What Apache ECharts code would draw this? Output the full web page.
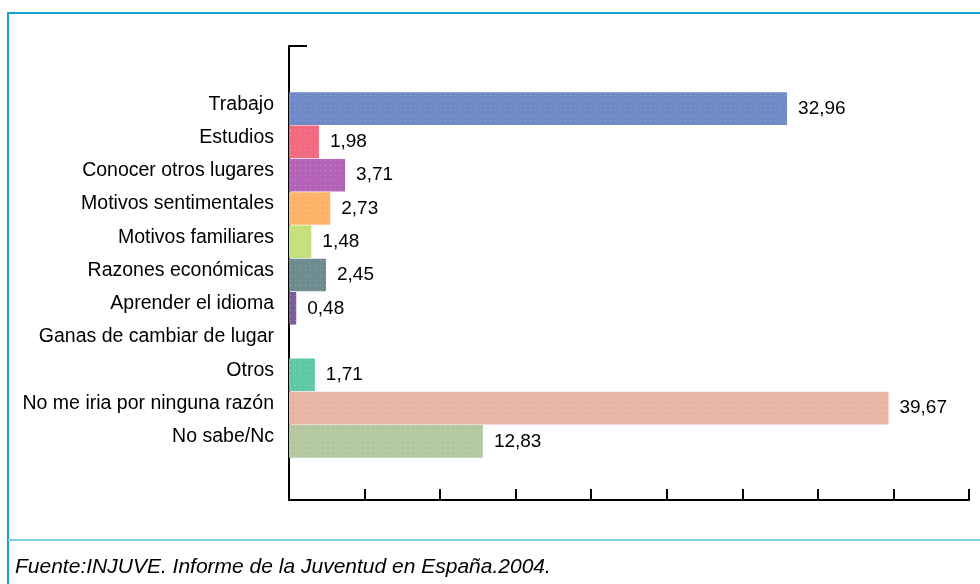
<!DOCTYPE html>
<html>
<head>
<meta charset="utf-8">
<script src="https://cdn.jsdelivr.net/npm/echarts@6/dist/echarts.min.js"></script>
<style>
    html, body { margin: 0; padding: 0; background: #fff; }
    #main { width: 980px; height: 584px; }
</style>
</head>
<body>
<div id="main"></div>
<script>
    // datos
    const categorias = [
        'Trabajo',
        'Estudios',
        'Conocer otros lugares',
        'Motivos sentimentales',
        'Motivos familiares',
        'Razones económicas',
        'Aprender el idioma',
        'Ganas de cambiar de lugar',
        'Otros',
        'No me iria por ninguna razón',
        'No sabe/Nc'
    ];
    const valores = [32.96, 1.98, 3.71, 2.73, 1.48, 2.45, 0.48, 0, 1.71, 39.67, 12.83];
    const colores = ['#6f8ac6', '#f26a80', '#b464b8', '#fdb468', '#c4e07c', '#6e8b90', '#7a5c98', '#888888', '#5ec9a2', '#e8b4a4', '#b4c8a0'];
    const fuente = 'Fuente:INJUVE. Informe de la Juventud en España.2004.';

    var chartDom = document.getElementById('main');
    var myChart = echarts.init(chartDom);
    var font = "'Liberation Sans', Arial, sans-serif";

    let barras = valores.map((v, i) => {
        return {
            value: v,
            itemStyle: {
                color: colores[i],
                // punteado suave como en el original
                decal: {
                    symbol: 'rect',
                    symbolSize: 1,
                    dashArrayX: [1, 4],
                    dashArrayY: [1, 4],
                    color: 'rgba(255,255,255,0.25)'
                }
            }
        };
    });

    var option = {
        animation: false,
        title: {
            text: fuente,
            left: 10,
            top: 552,
            textStyle: {
                fontFamily: font,
                fontStyle: 'italic',
                fontWeight: 'normal',
                fontSize: 21,
                color: '#000'
            }
        },
        grid: [
            { left: 289, right: 11, top: 92, bottom: 126 },
            { left: 289, right: 11, top: 46, bottom: 84 }
        ],
        xAxis: [
            {
                gridIndex: 0,
                type: 'value',
                min: 0,
                max: 45,
                interval: 5,
                offset: 42,
                axisLine: { show: true, lineStyle: { color: '#000', width: 2 } },
                axisTick: { show: true, inside: true, length: 11, lineStyle: { color: '#000', width: 2 } },
                axisLabel: { show: false },
                splitLine: { show: false }
            },
            { gridIndex: 1, type: 'value', show: false }
        ],
        yAxis: [
            {
                gridIndex: 0,
                type: 'category',
                inverse: true,
                data: categorias,
                axisLine: { show: false },
                axisTick: { show: false },
                axisLabel: {
                    margin: 15,
                    color: '#000',
                    formatter: (v) => '{a|' + v + '}',
                    rich: {
                        a: {
                            fontFamily: font,
                            fontSize: 19.5,
                            color: '#000',
                            padding: [0, 0, 9, 0]
                        }
                    }
                }
            },
            {
                gridIndex: 1,
                type: 'value',
                min: 0,
                max: 1,
                interval: 1,
                axisLine: { show: true, lineStyle: { color: '#000', width: 2 } },
                axisTick: { show: true, inside: true, length: 18, lineStyle: { color: '#000', width: 2 } },
                axisLabel: { show: false },
                splitLine: { show: false }
            }
        ],
        series: [
            {
                type: 'bar',
                xAxisIndex: 0,
                yAxisIndex: 0,
                data: barras,
                barCategoryGap: '2%',
                label: {
                    show: true,
                    position: 'right',
                    distance: 11,
                    fontFamily: font,
                    fontSize: 19,
                    color: '#000',
                    formatter: (p) => p.value ? p.value.toFixed(2).replace('.', ',') : ''
                }
            }
        ],
        graphic: [
            // marco
            { type: 'line', shape: { x1: 7, y1: 13, x2: 980, y2: 13 }, style: { stroke: '#14a4c9', lineWidth: 2 } },
            { type: 'line', shape: { x1: 8, y1: 12, x2: 8, y2: 584 }, style: { stroke: '#14a4c9', lineWidth: 2 } },
            { type: 'line', shape: { x1: 8, y1: 540, x2: 980, y2: 540 }, style: { stroke: '#7ccde0', lineWidth: 2 } }
        ]
    };

    myChart.setOption(option);
</script>
</body>
</html>
